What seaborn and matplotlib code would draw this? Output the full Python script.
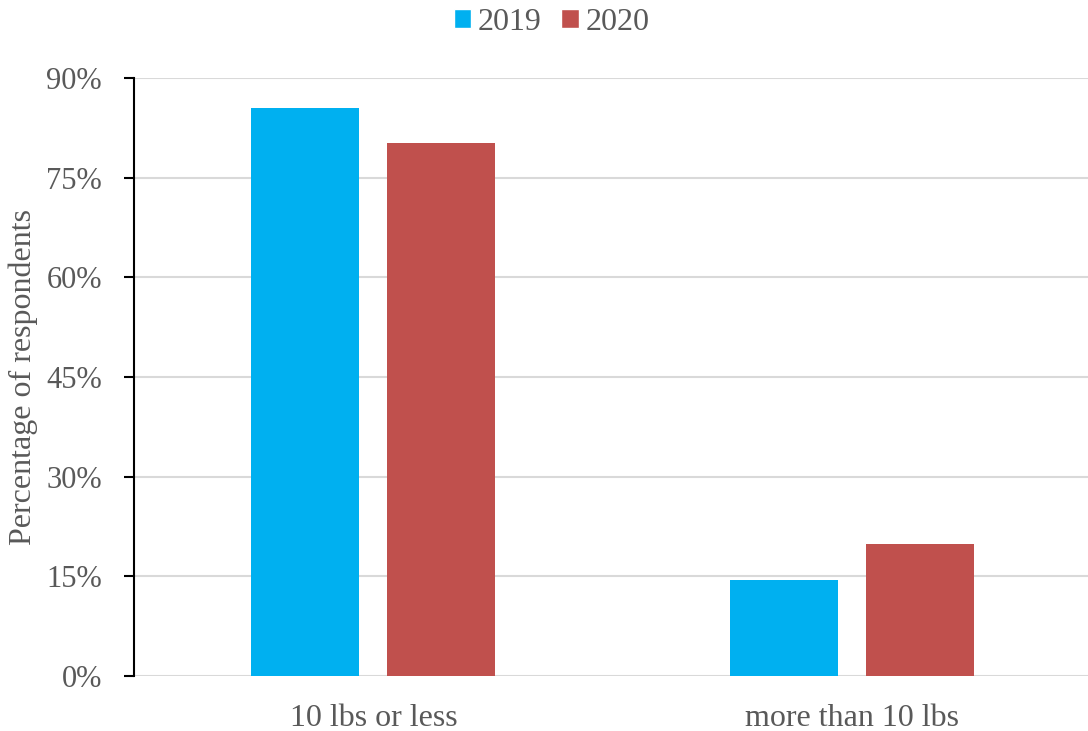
import matplotlib
matplotlib.use("Agg")
import matplotlib.pyplot as plt
import seaborn as sns
import pandas as pd
from matplotlib.ticker import FuncFormatter
from matplotlib.patches import Patch

categories = ["10 lbs or less", "more than 10 lbs"]
years = ["2019", "2020"]
values_2019 = [85.5, 14.5]
values_2020 = [80.2, 19.8]
colors = ["#00B0F0", "#C0504D"]

df = pd.DataFrame({
    "category": categories * 2,
    "year": [years[0]] * 2 + [years[1]] * 2,
    "value": values_2019 + values_2020,
})

sns.set_style("white")
plt.rcParams["font.family"] = ["Liberation Serif", "DejaVu Serif"]
text_color = "#595959"
fs = 23

fig = plt.figure(figsize=(10.88, 7.31), dpi=100)
ax = fig.add_axes([0.123, 0.0752, 0.877, 0.818])

sns.barplot(data=df, x="category", y="value", hue="year", order=categories,
            hue_order=years, palette=colors, width=0.568, gap=0.205,
            saturation=1, linewidth=0, ax=ax, legend=False)

ax.set_ylim(0, 90)
ax.set_xlim(-0.5, 1.492)
ax.set_yticks([0, 15, 30, 45, 60, 75, 90])
ax.yaxis.set_major_formatter(FuncFormatter(lambda v, p: f"{int(v)}%"))
ax.grid(axis="y", color="#D9D9D9", linewidth=1.5, zorder=0)
ax.set_axisbelow(True)
for s in ["top", "right", "bottom"]:
    ax.spines[s].set_visible(False)
ax.spines["left"].set_color("black")
ax.spines["left"].set_linewidth(1.5)
ax.tick_params(axis="y", length=7, width=1.5, color="black", labelsize=22,
               labelcolor=text_color, pad=16, left=True)
ax.tick_params(axis="x", length=0, labelsize=fs, labelcolor=text_color, pad=20)
ax.set_xlabel("")
ax.set_ylabel("Percentage of respondents", fontsize=fs, color=text_color, labelpad=6)

handles = [Patch(facecolor=c, label=y) for c, y in zip(colors, years)]
fig.legend(handles=handles, loc="center", bbox_to_anchor=(0.507, 0.969), ncol=2,
           frameon=False, fontsize=fs, handlelength=0.55, handleheight=0.55,
           handletextpad=0.2, columnspacing=0.62, labelcolor=text_color)

fig.savefig("out.png", dpi=100)
